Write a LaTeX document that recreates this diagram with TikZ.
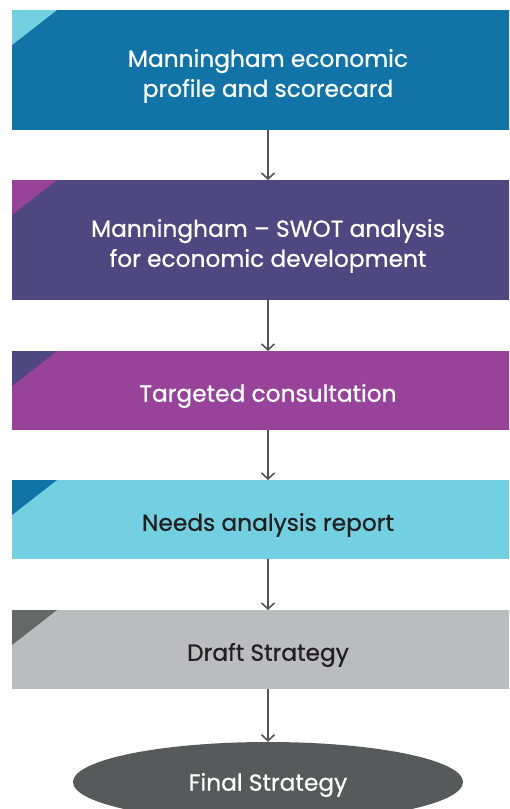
\documentclass[tikz,border=0pt]{standalone}
\usepackage{fontspec}
\setmainfont{Poppins}[FakeBold=0.7]
\usetikzlibrary{arrows.meta,shapes.geometric}
\definecolor{cblue}{HTML}{1173A6}
\definecolor{ccyan}{HTML}{72D0E1}
\definecolor{cnavy}{HTML}{4E4780}
\definecolor{cmag}{HTML}{98439A}
\definecolor{cgrey}{HTML}{BBBCBE}
\definecolor{cdgrey}{HTML}{666767}
\definecolor{cell}{HTML}{58595B}
\definecolor{ctext}{HTML}{231F20}
\definecolor{carrow}{HTML}{555555}
\newcommand{\txtfont}{\fontsize{23.3}{30}\selectfont}
\tikzset{
  stepbox/.style={rectangle, inner sep=0pt, minimum width=512pt, anchor=north west, align=center},
  lbl/.style={font=\txtfont, align=center, inner sep=0pt},
  conn/.style={draw=carrow, line width=1.6pt, -{Straight Barb[length=6pt,width=13pt,line width=1.6pt]}},
}
\begin{document}
\begin{tikzpicture}[x=1pt,y=-1pt]
\useasboundingbox (0,0) rectangle (509,809);
\begin{scope}
\clip (0,0) rectangle (509,809);
% boxes
\node[stepbox, fill=cblue, minimum height=120pt] (b1) at (12,10) {};
\fill[ccyan] (12,10) -- (57,10) -- (12,45) -- cycle;
\node[lbl, text=white] (t1) at (268,76) {Manningham economic\\profile and scorecard};
\node[stepbox, fill=cnavy, minimum height=120pt] (b2) at (12,180) {};
\fill[cmag] (12,180) -- (57,180) -- (12,215) -- cycle;
\node[lbl, text=white] (t2) at (268,246) {Manningham -- SWOT analysis\\for economic development};
\node[stepbox, fill=cmag, minimum height=79pt] (b3) at (12,351) {};
\fill[cnavy] (12,351) -- (57,351) -- (12,386) -- cycle;
\node[lbl, text=white] (t3) at (268,396) {Targeted consultation};
\node[stepbox, fill=ccyan, minimum height=79pt] (b4) at (12,480) {};
\fill[cblue] (12,480) -- (57,480) -- (12,515) -- cycle;
\node[lbl, text=ctext] (t4) at (268,525) {Needs analysis report};
\node[stepbox, fill=cgrey, minimum height=79pt] (b5) at (12,610) {};
\fill[cdgrey] (12,610) -- (57,610) -- (12,645) -- cycle;
\node[lbl, text=ctext] (t5) at (268,655) {Draft Strategy};
\node[ellipse, fill=cell, minimum width=390pt, minimum height=80pt, inner sep=0pt] (e) at (268,782) {};
\node[lbl, text=white] (t6) at (268,785) {Final Strategy};
% connectors
\draw[conn] (b1.south -| t1) -- (b2.north -| t1);
\draw[conn] (b2.south -| t1) -- (b3.north -| t1);
\draw[conn] (b3.south -| t1) -- (b4.north -| t1);
\draw[conn] (b4.south -| t1) -- (b5.north -| t1);
\draw[conn] (b5.south -| t1) -- (e.north);
\end{scope}
\end{tikzpicture}
\end{document}
